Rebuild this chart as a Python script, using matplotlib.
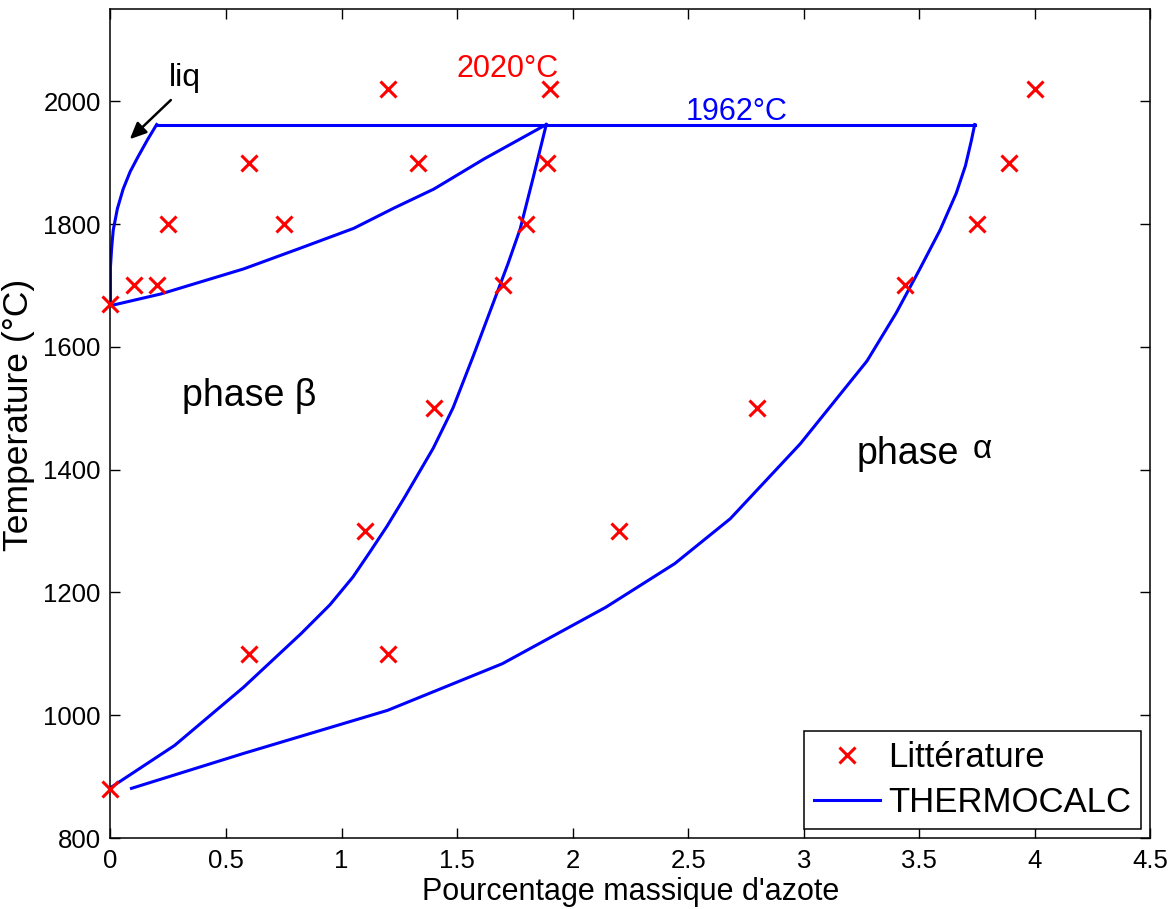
import numpy as np
import matplotlib
matplotlib.use("Agg")
import matplotlib.pyplot as plt

plt.rcParams['font.family'] = ['Liberation Sans', 'DejaVu Sans']

# points de la litterature
lit_x = [0, 0.1, 0.2, 0.25, 0.6, 0.75, 1.2, 1.33, 1.9, 1.89,
         0, 0.6, 1.1, 1.2, 1.4, 1.7, 1.8, 2.2, 2.8, 3.44, 3.75, 3.89, 4.0]
lit_y = [1670, 1700, 1700, 1800, 1900, 1800, 2020, 1900, 2020, 1900,
         880, 1100, 1300, 1100, 1500, 1700, 1800, 1300, 1500, 1700, 1800, 1900, 2020]

# courbes THERMOCALC
liq_x = [0, 0.0, 0.005, 0.012, 0.03, 0.055, 0.085, 0.12, 0.16, 0.2]
liq_y = [1667, 1730, 1760, 1790, 1825, 1857, 1885, 1910, 1937, 1962]

pal_x = [0.2, 3.74]
pal_y = [1962, 1962]

sol_x = [0, 0.217, 0.577, 0.824, 1.053, 1.227, 1.40, 1.617, 1.886]
sol_y = [1667, 1686, 1727, 1761, 1793, 1826, 1857, 1906, 1962]

beta_x = [0, 0.278, 0.577, 0.825, 0.95, 1.049, 1.123, 1.197, 1.273, 1.397,
          1.483, 1.57, 1.657, 1.72, 1.773, 1.829, 1.886]
beta_y = [882, 951, 1046, 1133, 1180, 1225, 1266, 1308, 1355, 1435,
          1501, 1585, 1672, 1735, 1792, 1875, 1962]

alpha_x = [0.091, 0.577, 1.199, 1.696, 2.144, 2.442, 2.682, 2.985, 3.274,
           3.40, 3.50, 3.59, 3.66, 3.70, 3.725, 3.74]
alpha_y = [881, 938, 1008, 1084, 1176, 1247, 1320, 1442, 1577,
           1655, 1725, 1790, 1850, 1895, 1935, 1962]

fig = plt.figure(figsize=(11.75, 9.09), dpi=100)
ax = fig.add_axes([0.094, 0.078, 0.885, 0.912])

ax.plot(lit_x, lit_y, 'x', color='red', markersize=12, markeredgewidth=2.2,
        label='Littérature', zorder=3, clip_on=False)
ax.plot(liq_x, liq_y, '-', color='blue', lw=2.2, label='THERMOCALC')
for cx, cy in [(pal_x, pal_y), (sol_x, sol_y), (beta_x, beta_y), (alpha_x, alpha_y)]:
    ax.plot(cx, cy, '-', color='blue', lw=2.2)

ax.set_xlim(0, 4.5)
ax.set_ylim(800, 2150)
ax.set_xticks(np.arange(0, 4.51, 0.5))
ax.set_xticklabels(['0', '0.5', '1', '1.5', '2', '2.5', '3', '3.5', '4', '4.5'])
ax.set_yticks(np.arange(800, 2001, 200))
ax.tick_params(direction='in', length=7, width=1, top=True, right=True,
               labelsize=18.5)
ax.tick_params(axis='x', pad=8)
ax.tick_params(axis='y', pad=7)
for s in ax.spines.values():
    s.set_linewidth(1.1)

ax.set_xlabel("Pourcentage massique d'azote", fontsize=22, labelpad=3)
ax.set_ylabel("Temperature (°C)", fontsize=25.5, labelpad=6)
ax.yaxis.set_label_coords(-0.073, 0.51)

ax.text(0.253, 2024, 'liq', fontsize=23)
ax.annotate('', xy=(0.075, 1935), xytext=(0.27, 2005),
            arrowprops=dict(arrowstyle='-|>,head_length=1.0,head_width=0.45',
                            color='black', lw=1.8))
ax.text(1.496, 2039, '2020°C', fontsize=22, color='red')
ax.text(2.49, 1969, '1962°C', fontsize=22, color='blue')
ax.text(0.308, 1504, 'phase β', fontsize=27)
ax.text(3.23, 1410, 'phase', fontsize=27)
ax.text(3.73, 1419, 'α', fontsize=24)

leg = ax.legend(loc='lower right', fontsize=25, fancybox=False, framealpha=1,
                edgecolor='black', borderaxespad=0.26, handlelength=1.9,
                handletextpad=0.25, borderpad=0.28, labelspacing=0.35)
leg.get_frame().set_linewidth(1.1)

fig.savefig('out.png', dpi=100)
